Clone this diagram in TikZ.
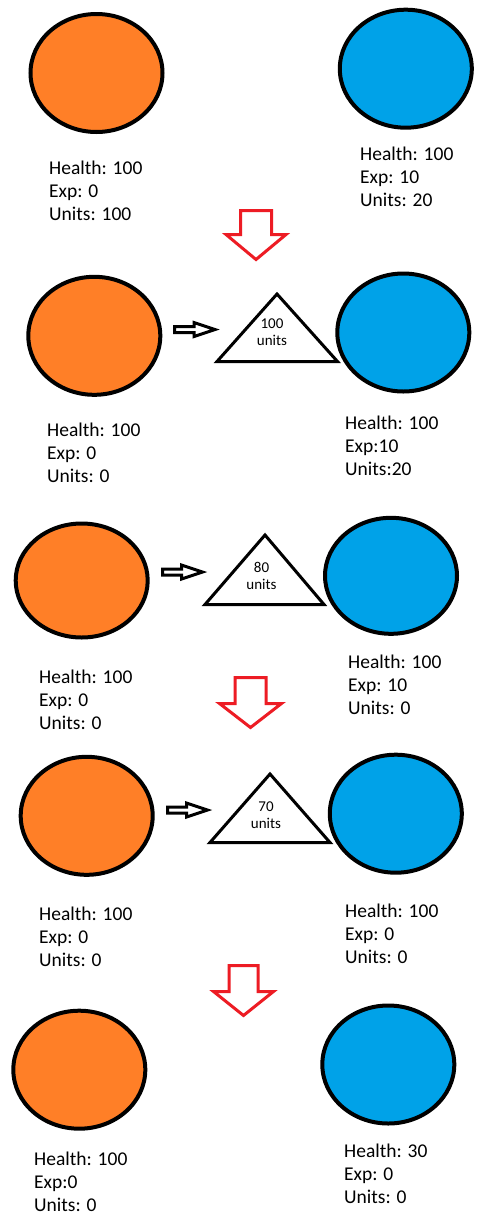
\documentclass[tikz,border=0pt]{standalone}
\usepackage{fontspec}
\setmainfont{Carlito}
\usetikzlibrary{shapes.geometric}
\definecolor{paintorange}{RGB}{255,127,39}
\definecolor{paintblue}{RGB}{0,162,232}
\definecolor{paintred}{RGB}{237,28,36}
% three stacked stat lines, baseline = first line
\newcommand\statblock[3]{\vtop{\baselineskip=23pt\hbox{#1}\hbox{#2}\hbox{#3}}}
% two centred lines inside a triangle, baseline = first line
\newcommand\loadlabel[2]{\vtop{\baselineskip=17.5pt\halign{\hfil##\hfil\cr#1\cr#2\cr}}}
% hollow block arrow pointing right: left x, tip x, centre y
\newcommand\blockright[3]{%
  \draw[blockarrow] (#1,#3-3) -- (#2-21,#3-3) -- (#2-21,#3-7) -- (#2,#3)
    -- (#2-21,#3+7) -- (#2-21,#3+3) -- (#1,#3+3) -- cycle;}
% hollow block arrow pointing down: centre x, top y, head y, tip y, shaft half, head half
\newcommand\blockdown[6]{%
  \draw[stagearrow] (#1-#5,#2) -- (#1+#5,#2) -- (#1+#5,#3) -- (#1+#6,#3)
    -- (#1,#4) -- (#1-#6,#3) -- (#1-#5,#3) -- cycle;}
\tikzset{
  army/.style={ellipse, draw=black, line width=4pt, inner sep=0pt,
    minimum width=132pt, minimum height=118pt},
  ownarmy/.style={army, fill=paintorange},
  foearmy/.style={army, fill=paintblue},
  stats/.style={anchor=base west, inner sep=0pt, font=\fontsize{19.5}{23}\selectfont},
  load/.style={draw=black, line width=3pt, line join=miter, fill=white},
  loadtext/.style={anchor=base, inner sep=0pt, font=\fontsize{15}{17.5}\selectfont},
  blockarrow/.style={draw=black, line width=3pt, line join=miter},
  stagearrow/.style={draw=paintred, line width=3pt, line join=miter},
}
\begin{document}
\begin{tikzpicture}[x=1pt, y=-1pt]
\useasboundingbox[fill=white] (0,0) rectangle (478,1213);

% stage 1
\node[ownarmy] (o1) at (96.5,73) {};
\node[foearmy] (b1) at (405.8,68.7) {};
\node[stats] (so1) at (49,174) {\statblock{Health: 100}{Exp: 0}{Units: 100}};
\node[stats] (sb1) at (360,160.5) {\statblock{Health: 100}{Exp: 10}{Units: 20}};
\blockdown{256}{210.5}{234.5}{259.5}{15.5}{30}

% stage 2
\node[ownarmy] (o2) at (94.3,335.8) {};
\node[foearmy] (b2) at (403.3,332.5) {};
\blockright{174.5}{215}{329.5}
\draw[load] (277,294) -- (337.5,361.5) -- (217,361.5) -- cycle;
\node[loadtext] (l2) at (272,328) {\loadlabel{100}{units}};
\node[stats] (so2) at (47,436) {\statblock{Health: 100}{Exp: 0}{Units: 0}};
\node[stats] (sb2) at (345,429) {\statblock{Health: 100}{Exp:10}{Units:20}};

% stage 3
\node[ownarmy, minimum height=114pt] (o3) at (81.7,580.5) {};
\node[foearmy, minimum height=116pt] (b3) at (391,575.8) {};
\blockright{162.5}{202.5}{572}
\draw[load] (265,535) -- (324,604.5) -- (205,604.5) -- cycle;
\node[loadtext] (l3) at (261.5,572) {\loadlabel{80}{units}};
\node[stats] (so3) at (39,683) {\statblock{Health: 100}{Exp: 0}{Units: 0}};
\node[stats] (sb3) at (348,668) {\statblock{Health: 100}{Exp: 10}{Units: 0}};
\blockdown{250.5}{677.5}{703.5}{727.5}{15.5}{31}

% stage 4
\node[ownarmy] (o4) at (86.7,815.8) {};
\node[foearmy] (b4) at (395.8,813.7) {};
\blockright{167.5}{207.5}{810}
\draw[load] (270,774) -- (330,842.5) -- (210,842.5) -- cycle;
\node[loadtext] (l4) at (266,811) {\loadlabel{70}{units}};
\node[stats] (so4) at (39,920) {\statblock{Health: 100}{Exp: 0}{Units: 0}};
\node[stats] (sb4) at (345,917) {\statblock{Health: 100}{Exp: 0}{Units: 0}};
\blockdown{243.5}{965.5}{991.5}{1015.5}{14.5}{30}

% stage 5
\node[ownarmy] (o5) at (79.3,1069.7) {};
\node[foearmy] (b5) at (388.3,1064.5) {};
\node[stats] (so5) at (34,1165) {\statblock{Health: 100}{Exp:0}{Units: 0}};
\node[stats] (sb5) at (344,1157) {\statblock{Health: 30}{Exp: 0}{Units: 0}};
\end{tikzpicture}
\end{document}
